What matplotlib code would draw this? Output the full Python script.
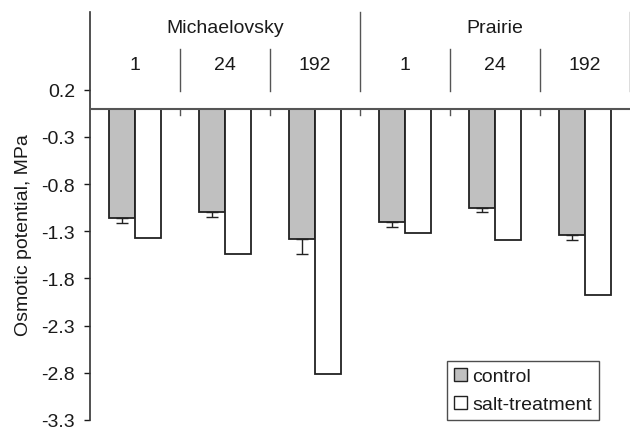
import numpy as np
import matplotlib.pyplot as plt
from matplotlib.patches import Patch

plt.rcParams.update({
    'font.family': ['Liberation Sans', 'DejaVu Sans'],
    'font.size': 14,
    'text.color': '#1a1a1a',
    'axes.labelcolor': '#1a1a1a',
    'ytick.color': '#1a1a1a',
})

# Osmotic potential (MPa) by cultivar and hours of treatment
cultivars = ['Michaelovsky', 'Prairie']
hours = ['1', '24', '192']
control = [-1.16, -1.10, -1.38, -1.20, -1.05, -1.34]
control_err = [0.05, 0.05, 0.16, 0.05, 0.05, 0.05]
salt = [-1.37, -1.54, -2.81, -1.32, -1.39, -1.97]
yticks = [0.2, -0.3, -0.8, -1.3, -1.8, -2.3, -2.8, -3.3]

fig = plt.figure(figsize=(6.3, 4.31), dpi=100)
ax = fig.add_axes([90 / 630, 10 / 431, 540 / 630, 408 / 431])

n = len(control)
slot = np.arange(n)
w = 26 / 90
x_ctrl = slot + 32 / 90
x_salt = slot + 58 / 90

edge = '#222222'
ax.bar(x_ctrl, control, width=w, color='#c0c0c0', edgecolor=edge,
       linewidth=1.3, zorder=2, label='control')
ax.bar(x_salt, salt, width=w, color='white', edgecolor=edge,
       linewidth=1.3, zorder=2, label='salt-treatment')
ax.errorbar(x_ctrl, control, yerr=[control_err, np.zeros(n)], fmt='none',
            ecolor=edge, elinewidth=1.0, capsize=4, capthick=1.0, zorder=3)

# zero line and ticks under it at the slot boundaries
ax.axhline(0, color='#555555', linewidth=1.5, zorder=4)
for b in range(1, n):
    ax.plot([b, b], [0, -0.065], color='#555555', linewidth=1.0, zorder=4)

# header: cultivar and hour labels with separators
top = 1.024
for g, name in enumerate(cultivars):
    ax.text(g * 3 + 1.5, 0.86, name, ha='center', va='center')
    ax.plot([g * 3 + 3, g * 3 + 3], [0.19, top], color='#555555',
            linewidth=1.0, clip_on=False)
    for k, h in enumerate(hours):
        ax.text(g * 3 + k + 0.5, 0.47, h, ha='center', va='center')
        if k > 0:
            ax.plot([g * 3 + k, g * 3 + k], [0.19, 0.63], color='#555555',
                    linewidth=1.0)

ax.set_xlim(0, n)
ax.set_ylim(-3.3, top)
ax.set_yticks(yticks)
ax.set_yticklabels([f'{v:.1f}' for v in yticks])
ax.set_xticks([])
ax.tick_params(axis='y', direction='out', length=4.3, width=1.0, pad=6.5)
for s in ['top', 'right', 'bottom']:
    ax.spines[s].set_visible(False)
ax.spines['left'].set_linewidth(1.2)
ax.spines['left'].set_color('#333333')
ax.set_ylabel('Osmotic potential, MPa')
ax.yaxis.set_label_coords(-58 / 540, 0.455)

handles = [Patch(facecolor='#c0c0c0', edgecolor=edge, linewidth=1.0, label='control'),
           Patch(facecolor='white', edgecolor=edge, linewidth=1.0, label='salt-treatment')]
leg = ax.legend(handles=handles, loc='lower right', bbox_to_anchor=(509 / 540, 0.0),
                frameon=True, fancybox=False, handlelength=0.65, handleheight=0.65,
                handletextpad=0.3, borderpad=0.35, labelspacing=0.55, borderaxespad=0)
leg.get_frame().set_edgecolor('#222222')
leg.get_frame().set_linewidth(1.0)

fig.savefig('out.png', dpi=100)
